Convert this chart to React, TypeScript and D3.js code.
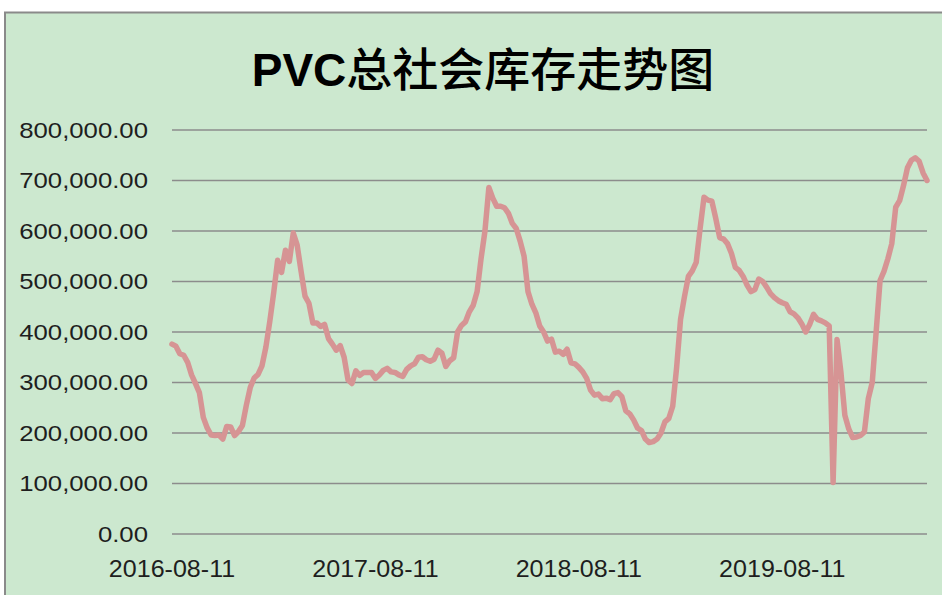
import React from 'react';
import {scaleLinear, line, format} from 'd3';

// weekly social inventory of PVC (tonnes)
const inventory = [
  376000, 372000, 357000, 354000, 340000, 315000, 298000, 280000, 231000, 210000,
  196000, 195000, 196000, 188000, 213000, 212000, 195000, 203000, 215000, 255000,
  290000, 309000, 316000, 333000, 370000, 421000, 478000, 542000, 518000, 562000,
  540000, 596000, 572000, 520000, 471000, 457000, 418000, 418000, 411000, 415000,
  387000, 376000, 364000, 373000, 350000, 305000, 298000, 323000, 314000, 320000,
  320000, 320000, 308000, 315000, 324000, 328000, 321000, 320000, 315000, 312000,
  326000, 333000, 337000, 350000, 351000, 345000, 342000, 346000, 364000, 358000,
  332000, 343000, 349000, 400000, 413000, 420000, 440000, 453000, 480000, 545000,
  600000, 686000, 665000, 649000, 649000, 646000, 635000, 615000, 605000, 580000,
  550000, 480000, 455000, 438000, 412000, 400000, 382000, 386000, 360000, 362000,
  356000, 366000, 339000, 337000, 330000, 321000, 308000, 285000, 275000, 277000,
  268000, 269000, 266000, 278000, 280000, 272000, 244000, 238000, 226000, 210000,
  205000, 188000, 181000, 183000, 188000, 200000, 222000, 229000, 253000, 330000,
  425000, 470000, 510000, 521000, 538000, 605000, 667000, 661000, 659000, 625000,
  587000, 584000, 575000, 556000, 528000, 522000, 510000, 493000, 480000, 484000,
  505000, 500000, 489000, 476000, 468000, 462000, 458000, 455000, 440000, 436000,
  428000, 416000, 400000, 415000, 435000, 425000, 422000, 418000, 412000, 102000,
  385000, 320000, 235000, 208000, 191000, 192000, 195000, 202000, 268000, 300000,
  400000, 502000, 520000, 545000, 575000, 647000, 660000, 690000, 725000, 740000,
  745000, 738000, 715000, 700000,
];

const dateLabels = ['2016-08-11', '2017-08-11', '2018-08-11', '2019-08-11'];
const labelIndex = [0, 52, 104, 156];
const yTicks = [0, 100000, 200000, 300000, 400000, 500000, 600000, 700000, 800000];

const W = 942, H = 595;
const margin = {left: 172, right: 15, top: 130, bottom: 61};

const App = () => {
  const x = scaleLinear().domain([0, inventory.length - 1]).range([margin.left, W - margin.right]);
  const y = scaleLinear().domain([0, 800000]).range([H - margin.bottom, margin.top]);
  const fmt = format(',.2f');
  const path = line<number>().x((d, i) => x(i)).y(d => y(d))(inventory);

  return (
    <svg width={W} height={H} style={{position: 'absolute', left: 0, top: 0}}
         fontFamily="'Liberation Sans', Arial, sans-serif">
      <rect x="0" y="0" width={W} height={H} fill="#ffffff"/>
      <rect x="5" y="12.5" width={W + 10} height={H} fill="#cce8cf" stroke="#8a8a8a" strokeWidth="2"/>

      <text x="483" y="86" textAnchor="middle" fontSize="46" fill="#000">
        <tspan fontWeight="bold">PVC</tspan>
        <tspan fontFamily="'Noto Sans CJK SC', sans-serif" fontWeight="500">总社会库存走势图</tspan>
      </text>

      <g className="y-axis">
        {yTicks.map(t => <g key={t}>
          <line x1={margin.left} x2={W - margin.right} y1={y(t)} y2={y(t)} stroke="#8c8c8c" strokeWidth="1.5"/>
          <text transform={`translate(148,${y(t)}) scale(1.17,1)`} dy="0.36em" textAnchor="end"
                fontSize="22" fill="#1e1e1e">{fmt(t)}</text>
        </g>)}
      </g>

      <g className="x-axis">
        {dateLabels.map((d, i) =>
          <text key={d} transform={`translate(${x(labelIndex[i])},577) scale(1.09,1)`} textAnchor="middle"
                fontSize="23" fill="#1e1e1e">{d}</text>
        )}
      </g>

      <path d={path || ''} fill="none" stroke="#d69494" strokeWidth="5.5" strokeLinejoin="round" strokeLinecap="round"/>
    </svg>
  );
};

export default App;
